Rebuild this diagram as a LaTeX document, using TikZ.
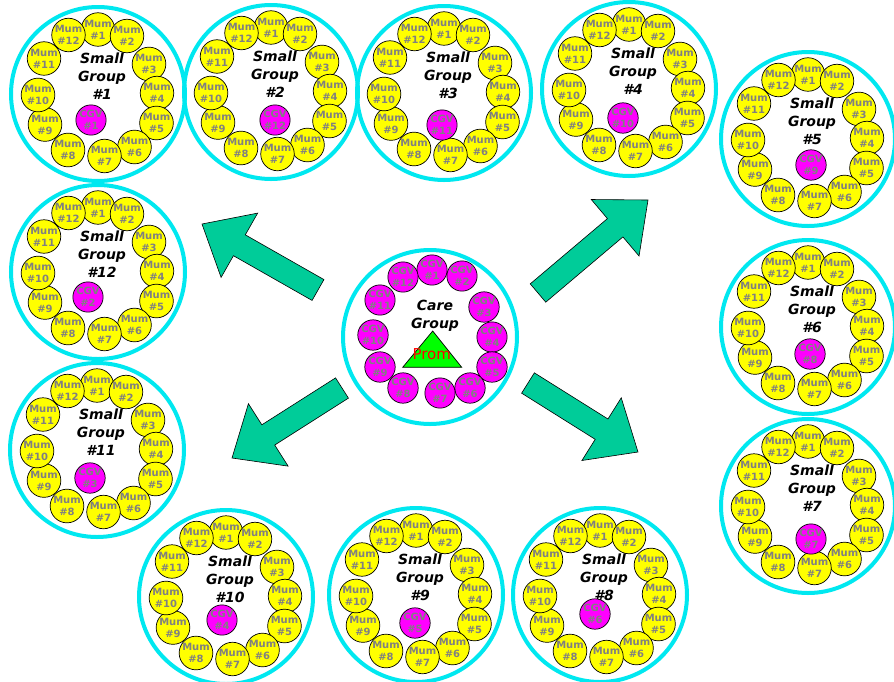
\documentclass[tikz,border=0pt]{standalone}
\usepackage{fontspec}
\setmainfont{DejaVu Sans}
\usetikzlibrary{calc}
\definecolor{ringcyan}{RGB}{0,232,240}
\definecolor{txtgray}{RGB}{128,128,128}
\definecolor{arrowgreen}{RGB}{0,204,153}
\definecolor{mumyellow}{RGB}{255,255,0}
\definecolor{cgvmag}{RGB}{255,0,255}
\definecolor{promgreen}{RGB}{0,255,0}
\tikzset{
  ringc/.style={circle, draw=ringcyan, line width=4pt, minimum size=174pt, inner sep=0pt},
  mum/.style={circle, draw=black, line width=0.7pt, fill=mumyellow, minimum size=30pt, inner sep=0pt,
    text=txtgray, align=center, font=\bfseries\fontsize{10}{12}\selectfont},
  cgv/.style={circle, draw=black, line width=0.7pt, fill=cgvmag, minimum size=29pt, inner sep=0pt,
    text=txtgray, align=center, font=\bfseries\fontsize{10}{12}\selectfont},
  titlef/.style={align=center, inner sep=0pt, font=\bfseries\itshape\fontsize{14}{18}\selectfont},
  bigarrow/.style={fill=arrowgreen, draw=black, line width=0.6pt, line join=miter}
}
\newcommand\smallgrp[6]{%
  \begin{scope}[shift={(#2,#3)}]
    \node[ringc] (#1) at (0,0) {};
    \foreach \k/\dx/\dy in {1/0/-64.5, 2/29/-58, 3/51/-30, 4/59/-1, 5/58.5/29, 6/36.5/53,
        7/6.5/62, 8/-30/56, 9/-53/30.5, 10/-60/1, 11/-54/-35.5, 12/-29.5/-59}
      {\node[mum] (#1m\k) at (\dx,\dy) {Mum\\\#\k};}
    \node[titlef] (#1t) at (4,-18) {Small\\Group\\\##4};
  \end{scope}
  \node[cgv] (#1c) at #6 {CGV\\\##5};
}
\newcommand\greenarrow[3]{% name, tail, tip
  \coordinate (#1T) at #2;
  \coordinate (#1P) at #3;
  \coordinate (#1H) at ($(#1P)!43pt!(#1T)$);
  \filldraw[bigarrow] ($(#1T)!12pt!90:(#1P)$) -- ($(#1H)!12pt!90:(#1P)$) -- ($(#1H)!37pt!90:(#1P)$)
    -- (#1P) -- ($(#1H)!37pt!-90:(#1P)$) -- ($(#1H)!12pt!-90:(#1P)$) -- ($(#1T)!12pt!-90:(#1P)$) -- cycle;
}
\begin{document}
\begin{tikzpicture}[x=1pt,y=-1pt]
\useasboundingbox (0,0) rectangle (894,681);
\fill[white] (0,0) rectangle (894,681);

\smallgrp{ga}{98}{94}{1}{1}{(91,120)}
\smallgrp{gb}{271}{92}{2}{12}{(275,120)}
\smallgrp{gc}{444}{93}{3}{11}{(442,125)}
\smallgrp{gd}{629}{89}{4}{10}{(623,118)}
\smallgrp{ge}{808}{139}{5}{9}{(811,165)}
\smallgrp{gf}{808}{327}{6}{8}{(810,354)}
\smallgrp{gg}{808}{506}{7}{7}{(811,539)}
\smallgrp{gh}{600}{595}{8}{6}{(595,614)}
\smallgrp{gi}{416}{595}{9}{5}{(415,623)}
\smallgrp{gj}{226}{597}{10}{4}{(222,620)}
\smallgrp{gk}{97}{450}{11}{3}{(90,478)}
\smallgrp{gl}{98}{272}{12}{2}{(88,297)}

% care group
\node[ringc] (cg) at (430,337) {};
\foreach \k/\x/\y in {1/432/270, 2/462/276, 3/484/307, 4/492/337, 5/492/367, 6/470/388,
    7/440/393, 8/403/388, 9/380/367, 10/373/335, 11/380/300, 12/403/277}
  {\node[cgv] (cc\k) at (\x,\y) {CGV\\\#\k};}
\node[titlef] (cgt) at (435,316) {Care\\Group};
\coordinate (triA) at (432.7,331);
\coordinate (triB) at (402.7,367.3);
\coordinate (triC) at (461.7,367.3);
\filldraw[fill=promgreen, draw=black, line width=0.7pt] (triA) -- (triB) -- (triC) -- cycle;
\node[text=red, inner sep=0pt, font=\fontsize{15}{18}\selectfont] (prom) at (431.7,354) {Prom};

% arrows
\greenarrow{ul}{(318,290)}{(202,224)}
\greenarrow{ur}{(538,293)}{(648,200)}
\greenarrow{ll}{(342,388)}{(232,458)}
\greenarrow{lr}{(528,383)}{(638,452)}
\end{tikzpicture}
\end{document}
